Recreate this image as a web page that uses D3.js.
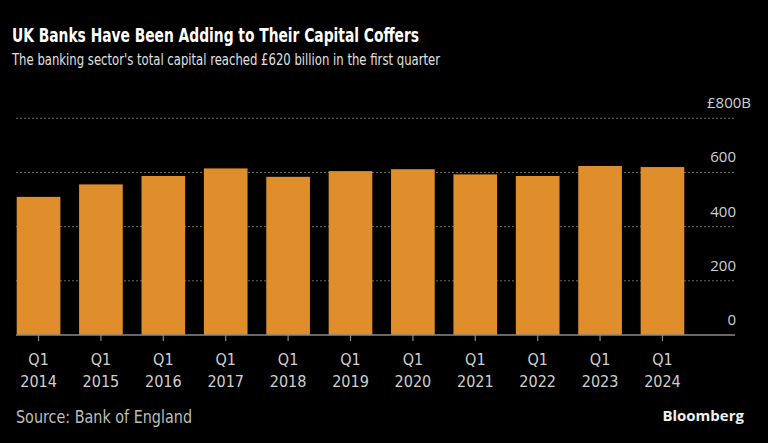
<!DOCTYPE html>
<html><head><meta charset="utf-8">
<script src="https://cdn.jsdelivr.net/npm/d3@7"></script>
<style>html,body{margin:0;padding:0;background:#000;}svg{display:block;}</style>
</head><body>
<script>
const categories = ["2014","2015","2016","2017","2018","2019","2020","2021","2022","2023","2024"];
const values = [510, 556, 587, 615, 584, 605, 612, 593, 587, 624, 620];
const yTicks = [0, 200, 400, 600, 800];
const title = "UK Banks Have Been Adding to Their Capital Coffers";
const subtitle = "The banking sector's total capital reached £620 billion in the first quarter";
const source = "Source: Bank of England";

const W = 768, H = 443;
const svg = d3.select("body").append("svg").attr("width", W).attr("height", H);
svg.append("rect").attr("width", W).attr("height", H).attr("fill", "#000");

const plotL = 16, plotR = 735;
const x = d3.scaleBand().domain(categories).range([16.7, 684.3]).paddingInner(0.3).paddingOuter(0);
const y = d3.scaleLinear().domain([0, 800]).range([335, 118.3]);
const cond = "'DejaVu Sans Condensed', 'DejaVu Sans', sans-serif";

// gridlines
svg.append("g").selectAll("line").data(yTicks.filter(d => d > 0)).join("line")
  .attr("x1", plotL).attr("x2", plotR)
  .attr("y1", d => y(d)).attr("y2", d => y(d))
  .attr("stroke", "#6a6a6a").attr("stroke-width", 1).attr("stroke-dasharray", "2,2");

// bars
svg.append("g").selectAll("rect").data(values).join("rect")
  .attr("x", (d, i) => x(categories[i]))
  .attr("width", x.bandwidth())
  .attr("y", d => y(d))
  .attr("height", d => y(0) - y(d))
  .attr("fill", "#E08D2B");

// y labels
svg.append("g").selectAll("text").data(yTicks).join("text")
  .attr("x", d => d === 800 ? 751 : 736)
  .attr("y", d => y(d) - 10)
  .attr("text-anchor", "end")
  .attr("font-family", "'Open Sans', sans-serif")
  .attr("font-size", 15)
  .attr("fill", "#d0d0d0")
  .text(d => d === 800 ? "£800B" : d);

// x axis
svg.append("line").attr("x1", plotL).attr("x2", plotR).attr("y1", y(0)).attr("y2", y(0))
  .attr("stroke", "#8a8a8a").attr("stroke-width", 1.5);
const xa = svg.append("g").selectAll("g").data(categories).join("g")
  .attr("transform", d => `translate(${x(d) + x.bandwidth() / 2},0)`);
xa.append("line").attr("y1", y(0)).attr("y2", y(0) + 6).attr("stroke", "#8a8a8a").attr("stroke-width", 1.2);
xa.append("text").attr("y", 365).attr("text-anchor", "middle")
  .attr("font-family", cond)
  .attr("font-size", 16).attr("fill", "#cfcfcf").text("Q1");
xa.append("text").attr("y", 386.5).attr("text-anchor", "middle")
  .attr("font-family", cond)
  .attr("font-size", 16).attr("fill", "#cfcfcf").text(d => d);

// titles
svg.append("text").attr("x", 12).attr("y", 42)
  .attr("font-family", cond)
  .attr("font-weight", "bold").attr("font-size", 19).attr("fill", "#fff")
  .attr("textLength", 407).attr("lengthAdjust", "spacingAndGlyphs").text(title);
svg.append("text").attr("x", 12).attr("y", 65)
  .attr("font-family", cond)
  .attr("font-size", 16.5).attr("fill", "#e0e0e0")
  .attr("textLength", 428).attr("lengthAdjust", "spacingAndGlyphs").text(subtitle);

// footer
svg.append("text").attr("x", 16).attr("y", 423)
  .attr("font-family", cond)
  .attr("font-size", 17).attr("fill", "#bdbdbd")
  .attr("textLength", 176).attr("lengthAdjust", "spacingAndGlyphs").text(source);
svg.append("text").attr("x", 744).attr("y", 421).attr("text-anchor", "end")
  .attr("font-family", "'Open Sans', sans-serif").attr("font-weight", "bold")
  .attr("font-size", 15).attr("fill", "#f0f0f0").text("Bloomberg");
</script>
</body></html>
